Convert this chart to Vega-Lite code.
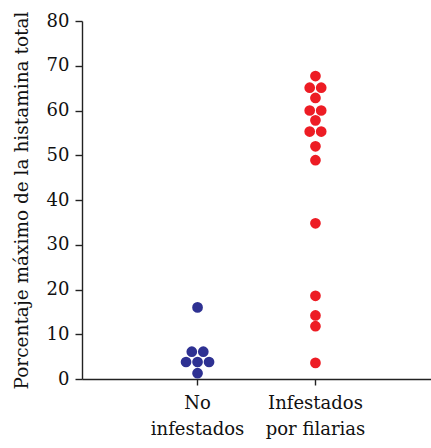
{
  "$schema": "https://vega.github.io/schema/vega-lite/v6.json",
  "width": 349,
  "height": 358,
  "autosize": "none",
  "padding": {"left": 82, "top": 21, "right": 0, "bottom": 69},
  "background": "white",
  "config": {
    "view": {"stroke": null},
    "font": "DejaVu Serif",
    "axis": {"grid": false, "domainColor": "#222", "tickColor": "#222", "domainWidth": 1.4, "tickWidth": 1.4, "labelColor": "#111", "titleColor": "#111"}
  },
  "data": {
    "values": [
      {"grupo": "No infestados", "valor": 16.0, "col": 0},
      {"grupo": "No infestados", "valor": 6.1, "col": -0.5},
      {"grupo": "No infestados", "valor": 6.1, "col": 0.5},
      {"grupo": "No infestados", "valor": 3.8, "col": -1},
      {"grupo": "No infestados", "valor": 3.8, "col": 0},
      {"grupo": "No infestados", "valor": 3.8, "col": 1},
      {"grupo": "No infestados", "valor": 1.3, "col": 0},
      {"grupo": "Infestados por filarias", "valor": 67.7, "col": 0},
      {"grupo": "Infestados por filarias", "valor": 65.1, "col": -0.5},
      {"grupo": "Infestados por filarias", "valor": 65.1, "col": 0.5},
      {"grupo": "Infestados por filarias", "valor": 62.8, "col": 0},
      {"grupo": "Infestados por filarias", "valor": 60.0, "col": -0.5},
      {"grupo": "Infestados por filarias", "valor": 60.0, "col": 0.5},
      {"grupo": "Infestados por filarias", "valor": 57.8, "col": 0},
      {"grupo": "Infestados por filarias", "valor": 55.3, "col": -0.5},
      {"grupo": "Infestados por filarias", "valor": 55.3, "col": 0.5},
      {"grupo": "Infestados por filarias", "valor": 52.0, "col": 0},
      {"grupo": "Infestados por filarias", "valor": 48.9, "col": 0},
      {"grupo": "Infestados por filarias", "valor": 34.8, "col": 0},
      {"grupo": "Infestados por filarias", "valor": 18.6, "col": 0},
      {"grupo": "Infestados por filarias", "valor": 14.2, "col": 0},
      {"grupo": "Infestados por filarias", "valor": 11.8, "col": 0},
      {"grupo": "Infestados por filarias", "valor": 3.6, "col": 0}
    ]
  },
  "mark": {"type": "circle", "size": 115, "opacity": 1},
  "encoding": {
    "x": {
      "field": "grupo",
      "type": "nominal",
      "sort": ["No infestados", "Infestados por filarias"],
      "scale": {"type": "band", "paddingInner": 1, "paddingOuter": 0.98},
      "axis": {
        "title": null,
        "labelAngle": 0,
        "labelFont": "DejaVu Serif",
        "labelFontSize": 18,
        "labelLineHeight": 26,
        "labelPadding": 9,
        "tickSize": 6,
        "labelExpr": "datum.label == 'No infestados' ? ['No', 'infestados'] : ['Infestados', 'por filarias']"
      }
    },
    "xOffset": {
      "field": "col",
      "type": "quantitative",
      "scale": {"domain": [-1, 1], "range": [-11.5, 11.5]}
    },
    "y": {
      "field": "valor",
      "type": "quantitative",
      "scale": {"domain": [0, 80], "nice": false},
      "axis": {
        "title": "Porcentaje máximo de la histamina total",
        "values": [0, 10, 20, 30, 40, 50, 60, 70, 80],
        "labelFont": "DejaVu Serif",
        "titleFont": "DejaVu Serif",
        "labelFontSize": 18,
        "labelPadding": 6,
        "tickSize": 7,
        "titleFontSize": 18.5,
        "titleFontWeight": "normal",
        "titlePadding": 15
      }
    },
    "color": {
      "field": "grupo",
      "type": "nominal",
      "scale": {"domain": ["No infestados", "Infestados por filarias"], "range": ["#2e3192", "#ed1c24"]},
      "legend": null
    }
  }
}
